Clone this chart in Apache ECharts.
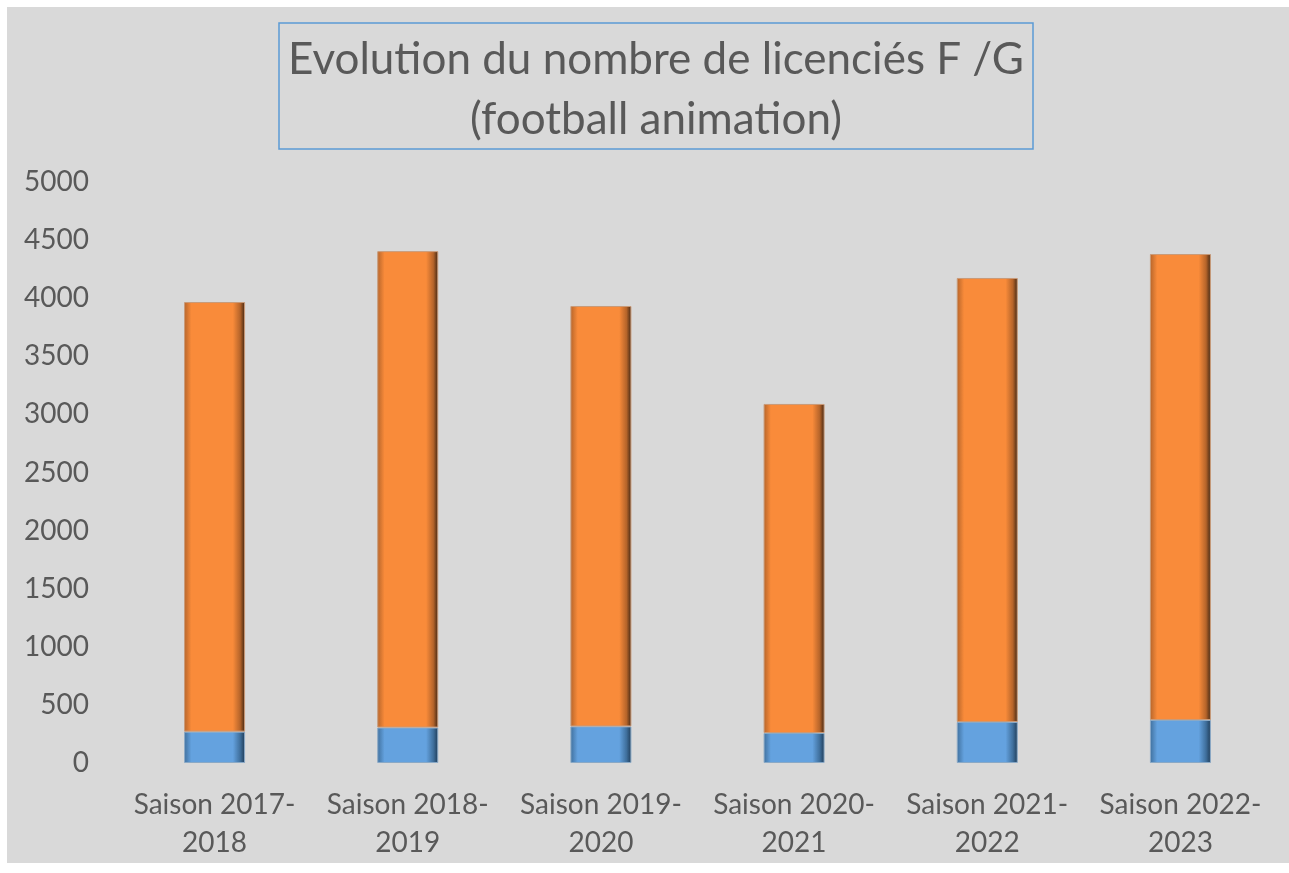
<!DOCTYPE html>
<html>
<head>
<meta charset="utf-8">
<script src="https://cdn.jsdelivr.net/npm/echarts@6/dist/echarts.min.js"></script>
<style>
html, body { margin: 0; padding: 0; background: #fff; }
#chart { position: absolute; left: 7px; top: 7px; width: 1282px; height: 856px; background: #D9D9D9; }
</style>
</head>
<body>
<div id="chart"></div>
<script>
// saisons
const categories = ['Saison 2017-\n2018', 'Saison 2018-\n2019', 'Saison 2019-\n2020', 'Saison 2020-\n2021', 'Saison 2021-\n2022', 'Saison 2022-\n2023']
// filles (bas, bleu) et garçons (haut, orange)
const filles = [270, 305, 315, 258, 353, 370]
const garcons = [3697, 4100, 3618, 2832, 3821, 4010]
const yTicks = [0, 500, 1000, 1500, 2000, 2500, 3000, 3500, 4000, 4500, 5000]

const font = 'Lato, "Open Sans", sans-serif'

function bevel(dark, base, edge) {
  return new echarts.graphic.LinearGradient(0, 0, 1, 0, [
    { offset: 0, color: dark },
    { offset: 0.12, color: base },
    { offset: 0.8, color: base },
    { offset: 0.92, color: dark },
    { offset: 1, color: edge }
  ])
}

const myChart = echarts.init(document.getElementById('chart'))
const option = {
  animation: false,
  backgroundColor: '#D9D9D9',
  grid: { left: 111, right: 12, top: 175, bottom: 100, containLabel: false },
  graphic: [{
    type: 'rect',
    shape: { x: 272, y: 16, width: 754, height: 126 },
    style: { fill: 'transparent', stroke: '#5B9BD5', lineWidth: 1.5 }
  }, {
    type: 'text',
    x: 649,
    y: 83,
    style: {
      text: 'Evolution du nombre de licenciés F /G\n(football animation)',
      font: '44px ' + font,
      fill: '#595959',
      textAlign: 'center',
      textVerticalAlign: 'middle',
      lineHeight: 60
    }
  }],
  xAxis: {
    type: 'category',
    data: categories,
    axisLine: { show: false },
    axisTick: { show: false },
    axisLabel: { color: '#595959', fontSize: 28, fontFamily: font, lineHeight: 38, margin: 23, interval: 0 }
  },
  yAxis: {
    type: 'value',
    min: yTicks[0],
    max: yTicks[yTicks.length - 1],
    interval: 500,
    splitLine: { show: false },
    axisLine: { show: false },
    axisTick: { show: false },
    axisLabel: { color: '#595959', fontSize: 28, fontFamily: font, margin: 29, formatter: v => String(v) }
  },
  series: [{
    name: 'Filles',
    type: 'bar',
    stack: 'total',
    barWidth: 61,
    data: filles,
    itemStyle: { color: bevel('#3f6f9c', '#64A2DF', '#1e3a55'), borderColor: '#8aa9c6', borderWidth: 1 }
  }, {
    name: 'Garçons',
    type: 'bar',
    stack: 'total',
    barWidth: 61,
    data: garcons,
    itemStyle: { color: bevel('#b5642a', '#F98B3A', '#3d2412'), borderColor: '#c99a78', borderWidth: 1 }
  }]
}
myChart.setOption(option)
</script>
</body>
</html>
